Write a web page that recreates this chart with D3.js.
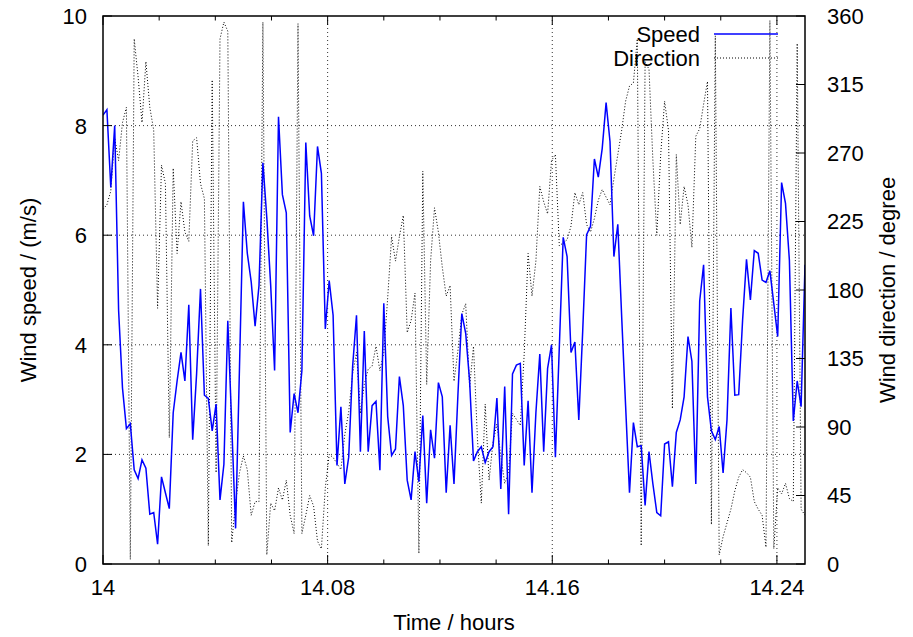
<!DOCTYPE html>
<html>
<head>
<meta charset="utf-8">
<script src="https://cdn.jsdelivr.net/npm/d3@7"></script>
<style>
  body { margin: 0; background: #fff; }
  text { font-family: "Liberation Sans", Arial, sans-serif; font-size: 22px; fill: #000; }
</style>
</head>
<body>
<script>
// Wind speed (m/s), one sample every 5 s from 14.00 h to 14.25 h
const speed = [
    8.19, 8.29, 6.87, 8.0, 4.63, 3.21, 2.47, 2.56, 1.72, 1.56, 1.90, 1.75, 0.91, 0.94, 0.36, 1.59, 1.30, 1.01, 2.76, 3.34, 3.86, 3.34, 4.73, 2.27, 3.47, 5.02, 3.08, 3.02, 2.43, 2.92,
    1.17, 1.82, 4.44, 2.56, 0.65, 3.6, 6.61, 5.67, 5.15, 4.34, 5.08, 7.32, 6.32, 5.08, 3.53, 8.16, 6.74, 6.41, 2.40, 3.11, 2.76, 3.53, 7.69, 6.35, 5.99, 7.62, 7.13, 4.29, 5.17, 4.54,
    1.80, 2.87, 1.46, 1.95, 3.60, 4.54, 2.05, 4.25, 2.05, 2.89, 2.97, 1.71, 4.76, 2.69, 1.98, 2.10, 3.42, 2.89, 1.53, 1.17, 2.05, 1.50, 2.71, 1.11, 2.45, 1.93, 3.31, 3.05, 1.30, 2.53,
    1.46, 3.08, 4.57, 4.21, 3.34, 1.88, 2.05, 2.14, 1.85, 2.05, 2.14, 3.03, 1.37, 3.24, 0.91, 3.47, 3.63, 3.66, 1.80, 2.98, 1.30, 2.76, 3.83, 2.05, 3.57, 4.0, 1.95, 3.95, 5.96, 5.61, 3.86,
    4.05, 2.63, 4.25, 6.01, 6.16, 7.39, 7.06, 7.58, 8.42, 7.71, 5.61, 6.20, 4.5, 2.89, 1.30, 2.58, 2.14, 2.16, 1.07, 2.05, 1.46, 0.94, 0.88, 2.19, 2.23, 1.41, 2.40, 2.63, 3.05, 4.15,
    3.70, 1.46, 4.80, 5.46, 3.05, 2.43, 2.27, 2.51, 1.66, 2.63, 4.67, 3.08, 3.09, 4.45, 5.56, 4.82, 5.72, 5.67, 5.18, 5.14, 5.35, 4.75, 4.15, 6.96, 6.58, 5.54, 2.61, 3.34, 2.87, 5.46
];

// Wind direction (degree), same samples
const direction = [
    233, 236, 245, 280, 265, 290, 300, 3, 345, 320, 290, 330, 300, 285, 168, 262, 250, 83, 260, 204, 238, 218, 212, 278, 280, 250, 240, 12, 318, 60,
    345, 356, 350, 14, 40, 60, 71, 62, 32, 41, 41, 356, 6, 40, 35, 50, 42, 55, 32, 20, 355, 20, 32, 45, 38, 15, 10, 50, 72, 70,
    66, 62, 85, 100, 125, 139, 99, 118, 128, 130, 143, 127, 139, 175, 215, 199, 215, 229, 152, 160, 178, 7, 258, 118, 199, 234, 218, 195, 176, 183,
    120, 140, 164, 171, 116, 143, 83, 40, 105, 55, 80, 92, 71, 53, 60, 99, 95, 91, 138, 204, 176, 199, 248, 238, 230, 265, 269, 209, 211, 213, 222,
    244, 236, 244, 223, 218, 227, 239, 246, 241, 236, 253, 269, 285, 304, 314, 316, 345, 12, 330, 325, 265, 216, 269, 304, 285, 102, 269, 223, 248, 236,
    208, 281, 286, 302, 317, 26, 347, 6, 18, 27, 36, 48, 57, 62, 60, 57, 41, 36, 32, 11, 357, 10, 50, 46, 53, 43, 41, 342, 36, 32
];

const tStart = 14, tEnd = 14.25;
const times = speed.map((d, i) => tStart + i * (tEnd - tStart) / (speed.length - 1));

const xTicks = [14, 14.02, 14.04, 14.06, 14.08, 14.1, 14.12, 14.14, 14.16, 14.18, 14.2, 14.22, 14.24];
const xLabels = [14, 14.08, 14.16, 14.24];
const yTicks = [0, 2, 4, 6, 8, 10];
const y2Ticks = [0, 45, 90, 135, 180, 225, 270, 315, 360];

const W = 913, H = 637;
const margin = { top: 16, right: 108, bottom: 73, left: 103 };
const width = W - margin.left - margin.right;
const height = H - margin.top - margin.bottom;

const svg = d3.select("body").append("svg")
    .attr("width", W)
    .attr("height", H);

const g = svg.append("g")
    .attr("transform", `translate(${margin.left},${margin.top})`);

const x = d3.scaleLinear().domain([tStart, tEnd]).range([0, width]);
const y = d3.scaleLinear().domain([0, 10]).range([height, 0]);
const y2 = d3.scaleLinear().domain([0, 360]).range([height, 0]);

g.append("clipPath").attr("id", "plotClip")
    .append("rect").attr("width", width).attr("height", height);

// grid
g.selectAll(".hgrid")
    .data(yTicks.filter(d => d > 0 && d < 10))
    .enter().append("line")
    .attr("x1", 0).attr("x2", width)
    .attr("y1", d => y(d)).attr("y2", d => y(d))
    .attr("stroke", "#333").attr("stroke-width", 1)
    .attr("stroke-dasharray", "1,3");

g.selectAll(".vgrid")
    .data(xLabels.filter(d => d > tStart))
    .enter().append("line")
    .attr("x1", d => x(d)).attr("x2", d => x(d))
    .attr("y1", 0).attr("y2", height)
    .attr("stroke", "#333").attr("stroke-width", 1)
    .attr("stroke-dasharray", "1,3");

// data lines
const dirLine = d3.line().x((d, i) => x(times[i])).y(d => y2(d));
const speedLine = d3.line().x((d, i) => x(times[i])).y(d => y(d));

g.append("path")
    .datum(direction)
    .attr("clip-path", "url(#plotClip)")
    .attr("fill", "none")
    .attr("stroke", "#000")
    .attr("stroke-width", 1)
    .attr("stroke-dasharray", "1,2")
    .attr("d", dirLine);

g.append("path")
    .datum(speed)
    .attr("clip-path", "url(#plotClip)")
    .attr("fill", "none")
    .attr("stroke", "#0000ff")
    .attr("stroke-width", 1.5)
    .attr("d", speedLine);

// ticks (inward, x mirrored on top)
const isMajor = d => xLabels.some(v => Math.abs(v - d) < 1e-9);
g.selectAll(".xtick")
    .data(xTicks)
    .enter().append("path")
    .attr("d", d => {
        const len = isMajor(d) ? 9 : 4.5;
        return `M${x(d)},${height}v${-len}M${x(d)},0v${len}`;
    })
    .attr("stroke", "#000").attr("stroke-width", 1);

g.selectAll(".ytick")
    .data(yTicks)
    .enter().append("line")
    .attr("x1", 0).attr("x2", 9)
    .attr("y1", d => y(d)).attr("y2", d => y(d))
    .attr("stroke", "#000");

g.selectAll(".y2tick")
    .data(y2Ticks)
    .enter().append("line")
    .attr("x1", width - 9).attr("x2", width)
    .attr("y1", d => y2(d)).attr("y2", d => y2(d))
    .attr("stroke", "#000");

// border
g.append("rect")
    .attr("width", width).attr("height", height)
    .attr("fill", "none").attr("stroke", "#000").attr("stroke-width", 1.5);

// tick labels
g.selectAll(".xlab")
    .data(xLabels)
    .enter().append("text")
    .attr("x", d => x(d)).attr("y", height + 31)
    .attr("text-anchor", "middle")
    .text(d => d);

g.selectAll(".ylab")
    .data(yTicks)
    .enter().append("text")
    .attr("x", -16).attr("y", d => y(d)).attr("dy", "0.36em")
    .attr("text-anchor", "end")
    .text(d => d);

g.selectAll(".y2lab")
    .data(y2Ticks)
    .enter().append("text")
    .attr("x", width + 22).attr("y", d => y2(d)).attr("dy", "0.36em")
    .attr("text-anchor", "start")
    .text(d => d);

// axis titles
svg.append("text")
    .attr("x", margin.left + width / 2).attr("y", 630)
    .attr("text-anchor", "middle")
    .text("Time / hours");

svg.append("text")
    .attr("transform", `translate(36,${margin.top + height / 2}) rotate(-90)`)
    .attr("text-anchor", "middle")
    .text("Wind speed / (m/s)");

svg.append("text")
    .attr("transform", `translate(895,${margin.top + height / 2}) rotate(-90)`)
    .attr("text-anchor", "middle")
    .text("Wind direction / degree");

// legend
const legend = [
    { label: "Speed", color: "#0000ff", dash: null, width: 1.5, y: 34 },
    { label: "Direction", color: "#000", dash: "1,2", width: 1, y: 58 }
];
const lg = svg.selectAll(".legend")
    .data(legend)
    .enter().append("g");
lg.append("text")
    .attr("x", 700).attr("y", d => d.y).attr("dy", "0.36em")
    .attr("text-anchor", "end")
    .text(d => d.label);
lg.append("line")
    .attr("x1", 714).attr("x2", 778)
    .attr("y1", d => d.y).attr("y2", d => d.y)
    .attr("stroke", d => d.color)
    .attr("stroke-width", d => d.width)
    .attr("stroke-dasharray", d => d.dash);
</script>
</body>
</html>
